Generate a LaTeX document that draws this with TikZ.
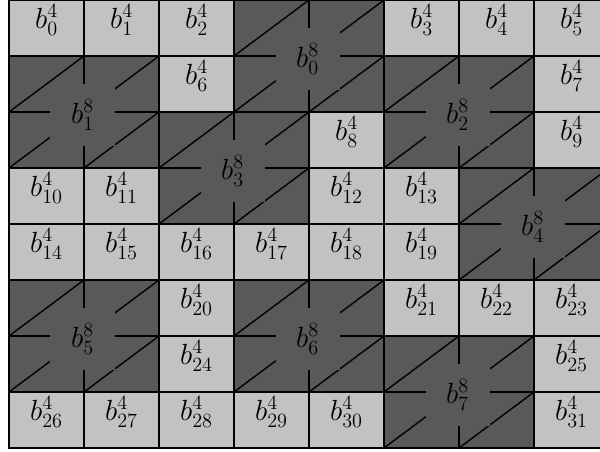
\documentclass[tikz,border=0pt]{standalone}
\usepackage{tikz}
\usetikzlibrary{calc}

\definecolor{cellgray}{gray}{0.76}
\definecolor{blockgray}{gray}{0.35}

\tikzset{
  gridline/.style={line width=1pt, black},
  smallbox/.style={gridline, fill=cellgray},
  bigbox/.style={gridline, fill=blockgray},
  smalllabel/.style={inner sep=0pt, font=\huge},
  biglabel/.style={fill=blockgray, inner sep=0pt, minimum width=1.6cm,
    minimum height=1.55cm, font=\huge},
}

\begin{document}
\begin{tikzpicture}[x=1.875cm, y=-1.4cm]
  \useasboundingbox (-0.12,0) rectangle (7.88,8.054);
  \clip (-0.12,0) rectangle (7.88,8.054);
  % level-4 blocks
  \foreach \i/\c/\r in {0/0/0,1/1/0,2/2/0,3/5/0,4/6/0,5/7/0,
      6/2/1,7/7/1, 8/4/2,9/7/2, 10/0/3,11/1/3,12/4/3,13/5/3,
      14/0/4,15/1/4,16/2/4,17/3/4,18/4/4,19/5/4,
      20/2/5,21/5/5,22/6/5,23/7/5, 24/2/6,25/7/6,
      26/0/7,27/1/7,28/2/7,29/3/7,30/4/7,31/7/7} {
    \draw[smallbox] (\c,\r) rectangle ++(1,1);
    \node[smalllabel] (s\i) at (\c+0.5,\r+0.36) {$b^4_{\i}$};
  }
  % level-8 blocks, hatched
  \foreach \i/\c/\r in {0/3/0,1/0/1,2/5/1,3/2/2,4/6/3,5/0/5,6/3/5,7/5/6} {
    \draw[bigbox] (\c,\r) rectangle ++(2,2);
    \draw[gridline] (\c+1,\r) -- ++(0,2) (\c,\r+1) -- ++(2,0);
    \foreach \dx/\dy in {0/0,1/0,0/1,1/1}
      \draw[gridline] (\c+\dx,\r+\dy+1) -- ++(1,-1);
    \node[biglabel] (B\i) at (\c+0.98,\r+1.06) {$b^8_{\i}$};
  }
\end{tikzpicture}
\end{document}
